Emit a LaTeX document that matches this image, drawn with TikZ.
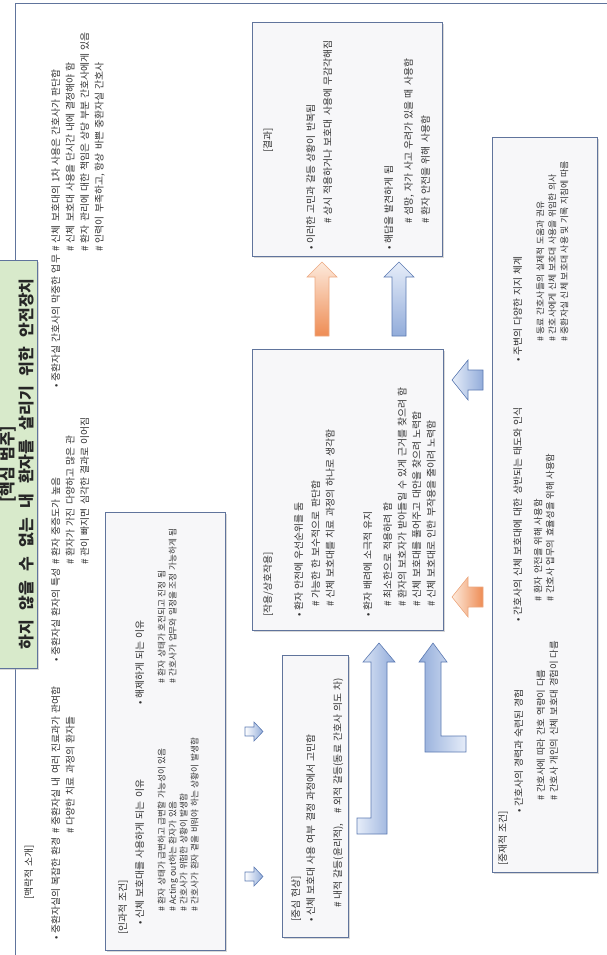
\documentclass[tikz,border=0pt]{standalone}
\usepackage{fontspec}
\setmainfont{Noto Sans CJK KR}[WordSpace=1.4]
\usetikzlibrary{positioning,calc,shadows}

\definecolor{frameblue}{RGB}{96,116,156}
\definecolor{boxfill}{RGB}{247,247,249}
\definecolor{titlegreen}{RGB}{216,234,203}
\definecolor{orgdark}{RGB}{238,140,84}
\definecolor{orglight}{RGB}{253,234,220}
\definecolor{orgline}{RGB}{236,168,128}
\definecolor{bludark}{RGB}{146,172,218}
\definecolor{blulight}{RGB}{230,237,249}
\definecolor{bluline}{RGB}{92,122,178}
\definecolor{txtgray}{RGB}{50,50,50}

\begin{document}
\begin{tikzpicture}[x=1pt, y=-1pt,
    box/.style={rectangle, draw=frameblue, line width=0.9pt, fill=boxfill, anchor=north west, inner sep=0pt,
        drop shadow={shadow xshift=1.2pt, shadow yshift=-1.2pt, fill=black!30}},
    txt/.style={rotate=90, anchor=north west, inner sep=0pt, align=left, text=txtgray,
        font=\fontsize{9.8}{14.5}\selectfont},
    small/.style={font=\fontsize{8.6}{11}\selectfont},
    ttl/.style={rotate=90, inner sep=0pt, align=center, font=\fontsize{16}{19}\selectfont\bfseries},
    orgarrow/.style={draw=orgline, line width=0.6pt},
    bluarrow/.style={draw=bluline, line width=0.6pt},
]
\useasboundingbox (0,0) rectangle (606,955);

% ====== Frame and title ======
\node[draw=frameblue, line width=0.8pt, anchor=north west, inner sep=0pt, minimum width=620pt, minimum height=980pt] (frame) at (15,3) {};
\node[box, fill=titlegreen, minimum width=40pt, minimum height=408pt] (title) at (-3,260) {};
\node[ttl, text=black!85] (titletxt) at (17,464) {[핵심 범주]\\\spaceskip=0.6em\relax 하지 않을 수 없는 내 환자를 살리기 위한 안전장치};

% ====== Context ======
\node[txt] (ctxlbl) at (22,900) {\strut[맥락적 소개]};
\node[txt] (ctxA) at (49,940) {\strut• 중환자실의 복잡한 환경};
\node[txt] (ctxAl) at ($(ctxA.north east)+(0,-3)$) {\strut\# 중환자실 내 여러 진료과가 관여함\\\# 다양한 치료 과정의 환자들};
\node[txt] (ctxB) at (49,662) {\strut• 중환자실 환자의 특성};
\node[txt] (ctxBl) at ($(ctxB.north east)+(0,-3)$) {\strut\# 환자 중증도가 높음\\\# 환자가 가진 다양하고 많은 관\\\# 관이 빠지면 심각한 결과로 이어짐};
\node[txt] (ctxC) at (49,388) {\strut• 중환자실 간호사의 막중한 업무};
\node[txt] (ctxCl) at ($(ctxC.north east)+(0,-3)$) {\strut\# 신체 보호대의 1차 사용은 간호사가 판단함\\\# 신체 보호대 사용을 단시간 내에 결정해야 함\\\# 환자 관리에 대한 책임은 상당 부분 간호사에게 있음\\\# 인력이 부족하고, 항상 바쁜 중환자실 간호사};

% ====== Causal conditions ======
\node[box, minimum width=120pt, minimum height=438pt] (cause) at (105,512) {};
\node[txt] (causelbl) at (116,935) {\strut[인과적 조건]};
\node[txt] (causeA) at (133,925) {\strut• 신체 보호대를 사용하게 되는 이유};
\node[txt, small] (causeAl) at (157,912) {\strut\# 환자 상태가 급변하고 급변할 가능성이 있음\\\# Acting out하는 환자가 있음\\\# 간호사가 위험한 상황이 발생함\\\# 간호사가 환자 곁을 비워야 하는 상황이 발생함};
\node[txt] (causeB) at (133,705) {\strut• 해제하게 되는 이유};
\node[txt, small] (causeBl) at (157,684) {\strut\# 환자 상태가 호전되고 진정 됨\\\# 간호사가 업무와 일정을 조정 가능하게 됨};

% ====== Central phenomenon ======
\node[box, minimum width=66pt, minimum height=282pt] (core) at (282,655) {};
\node[txt] (corelbl) at (289,922) {\strut[중심 현상]};
\node[txt] (coreA) at (304,922) {\strut• 신체 보호대 사용 여부 결정 과정에서 고민함};
\node[txt] (coreAl) at (331,908) {\strut\# 내적 갈등(윤리적),\quad\# 외적 갈등(동료 간호사 의도 차)};

% ====== Action / interaction ======
\node[box, minimum width=191pt, minimum height=281pt] (act) at (252,349) {};
\node[txt] (actlbl) at (261,617) {\strut[작용/상호작용]};
\node[txt] (actA) at (292,617) {\strut• 환자 안전에 우선순위를 둠};
\node[txt] (actAl) at (309,607) {\strut\# 가능한 한 보수적으로 판단함\\\# 신체 보호대를 치료 과정의 하나로 생각함};
\node[txt] (actB) at (361,617) {\strut• 환자 배려에 소극적 유지};
\node[txt] (actBl) at (381,607) {\strut\# 최소한으로 적용하려 함\\\# 환자의 보호자가 받아들일 수 있게 근거를 찾으려 함\\\# 신체 보호대를 풀어주고 대안을 찾으려 노력함\\\# 신체 보호대로 인한 부작용을 줄이려 노력함};

% ====== Consequences ======
\node[box, minimum width=190pt, minimum height=234pt] (res) at (252,22) {};
\node[txt] (reslbl) at (261,153) {\strut[결과]};
\node[txt] (resA) at (304,250) {\strut• 이러한 고민과 갈등 상황이 반복됨};
\node[txt] (resAl) at (321,224) {\strut\# 상시 적용하거나 보호대 사용에 무감각해짐};
\node[txt] (resB) at (382,250) {\strut• 해답을 발견하게 됨};
\node[txt, font=\fontsize{9.8}{17}\selectfont] (resBl) at (400,224) {\strut\# 섬망, 자가 사고 우려가 있을 때 사용함\\\# 환자 안전을 위해 사용함};

% ====== Intervening conditions ======
\node[box, minimum width=105pt, minimum height=735pt] (inter) at (492,137) {};
\node[txt] (interlbl) at (496,866) {\strut[중재적 조건]};
\node[txt] (interA) at (512,813) {\strut• 간호사의 경력과 숙련된 경험};
\node[txt, font=\fontsize{9.3}{13}\selectfont] (interAl) at (535,801) {\strut\# 간호사에 따라 간호 역량이 다름\\\# 간호사 개인의 신체 보호대 경험이 다름};
\node[txt] (interB) at (511,622) {\strut• 간호사의 신체 보호대에 대한 상반되는 태도와 인식};
\node[txt, font=\fontsize{9.3}{12}\selectfont] (interBl) at (533,602) {\strut\# 환자 안전을 위해 사용함\\\# 간호사 업무의 효율성을 위해 사용함};
\node[txt] (interC) at (511,362) {\strut• 주변의 다양한 지지 체계};
\node[txt, font=\fontsize{8.8}{12}\selectfont] (interCl) at (535,342) {\strut\# 동료 간호사들의 실제적 도움과 권유\\\# 간호사에게 신체 보호대 사용을 위임한 의사\\\# 중환자실 신체 보호대 사용 및 기록 지침에 따름};

% ====== Block arrows ======
% causal -> central
\path[bluarrow, left color=white, right color=bludark] (245,727) -- (254,727) -- (254,722) -- (263,731.5) -- (254,741) -- (254,736) -- (245,736) -- cycle;
\path[bluarrow, left color=white, right color=bludark] (245,872) -- (254,872) -- (254,867) -- (263,876.5) -- (254,886) -- (254,881) -- (245,881) -- cycle;
% central -> action
\path[bluarrow, left color=blulight, right color=bludark] (357,818) -- (371,818) -- (371,662) -- (363,662) -- (379,643) -- (395,662) -- (387,662) -- (387,834) -- (357,834) -- cycle;
\path[bluarrow, left color=bludark, right color=blulight] (425,752) -- (425,662) -- (419,662) -- (433,643) -- (447,662) -- (441,662) -- (441,736) -- (466,736) -- (466,752) -- cycle;
% intervening -> action
\path[bluarrow, left color=blulight, right color=bludark] (483,370) -- (468,370) -- (468,360) -- (452,380) -- (468,400) -- (468,390) -- (483,390) -- cycle;
\path[orgarrow, left color=orglight, right color=orgdark] (483,587) -- (468,587) -- (468,577) -- (452,597) -- (468,617) -- (468,607) -- (483,607) -- cycle;
% action -> consequences
\path[orgarrow, top color=orglight, bottom color=orgdark] (315,336) -- (315,277) -- (307,277) -- (322,262) -- (337,277) -- (329,277) -- (329,336) -- cycle;
\path[bluarrow, top color=blulight, bottom color=bludark] (392,336) -- (392,277) -- (384,277) -- (399,262) -- (414,277) -- (406,277) -- (406,336) -- cycle;

\end{tikzpicture}
\end{document}
